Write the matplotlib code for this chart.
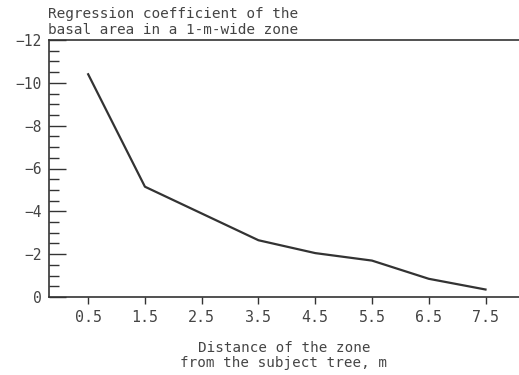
import numpy as np
import matplotlib.pyplot as plt
from matplotlib.ticker import MultipleLocator

plt.rcParams['font.family'] = 'DejaVu Sans Mono'

distance = [0.5, 1.5, 2.5, 3.5, 4.5, 5.5, 6.5, 7.5]
coef = [-10.4, -5.15, -3.9, -2.65, -2.05, -1.7, -0.85, -0.35]
xticks = [0.5, 1.5, 2.5, 3.5, 4.5, 5.5, 6.5, 7.5]
yticks = [0, -2, -4, -6, -8, -10, -12]

fig = plt.figure(figsize=(5.19, 3.75), dpi=100)
ax = fig.add_axes([49/519, 1 - 297/375, 1 - 49/519, (297 - 40)/375])

ax.plot(distance, coef, color='#333333', linewidth=1.6)

ax.set_xlim(-0.19, 8.09)
ax.set_ylim(0, -12)
ax.set_xticks(xticks)
ax.set_xticklabels([str(v) for v in xticks])
ax.set_yticks(yticks)
ax.yaxis.set_minor_locator(MultipleLocator(0.5))

ax.spines['right'].set_visible(False)
for s in ['left', 'top', 'bottom']:
    ax.spines[s].set_color('#333333')
    ax.spines[s].set_linewidth(1.2)

ax.tick_params(axis='y', which='major', direction='in', length=12, width=1, color='#333333',
               labelsize=10.5, pad=5, labelcolor='#444444')
ax.tick_params(axis='y', which='minor', direction='in', length=7, width=1, color='#333333')
ax.tick_params(axis='x', which='major', direction='out', length=5, width=1, color='#333333',
               labelsize=10.8, pad=4, labelcolor='#444444')

ax.set_xlabel('Distance of the zone\nfrom the subject tree, m', fontsize=10.3,
              color='#444444', labelpad=12, linespacing=1.05)

fig.text(48/519, 1 - 22/375, 'Regression coefficient of the\nbasal area in a 1-m-wide zone',
         fontsize=10.4, color='#444444', ha='left', va='center', linespacing=1.1)

fig.savefig('out.png', dpi=100, facecolor='white')
